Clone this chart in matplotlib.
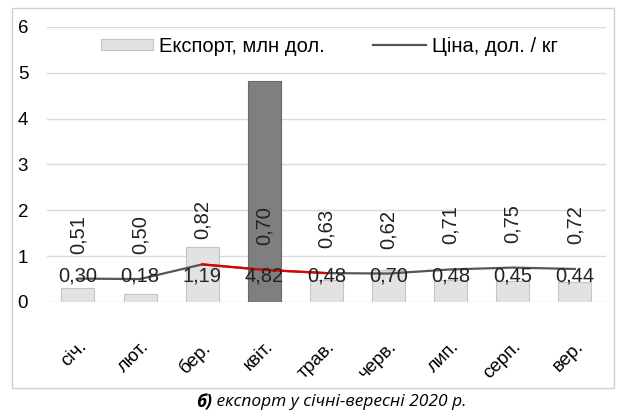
import numpy as np
import matplotlib
matplotlib.use("Agg")
import matplotlib.pyplot as plt
from matplotlib.patches import Rectangle

months = ["січ.", "лют.", "бер.", "квіт.", "трав.", "черв.", "лип.", "серп.", "вер."]
export = [0.30, 0.18, 1.19, 4.82, 0.48, 0.70, 0.48, 0.45, 0.44]
price = [0.51, 0.50, 0.82, 0.70, 0.63, 0.62, 0.71, 0.75, 0.72]
highlight = 3          # квіт. – dark bar
red_part = slice(2, 5)  # бер. .. трав.
export_name = "Експорт, млн дол."
price_name = "Ціна, дол. / кг"
caption_head = "б)"
caption_tail = " експорт у січні-вересні 2020 р."

plt.rcParams["font.family"] = ["Liberation Sans", "DejaVu Sans"]

fig = plt.figure(figsize=(6.17, 4.20), dpi=100)
ax = fig.add_axes([0.076, 0.281, 0.906, 0.655])

x = np.arange(len(months))
colors = ["#e2e2e2"] * len(months)
colors[highlight] = "#7f7f7f"
edges = ["#c4c4c4"] * len(months)
edges[highlight] = "#6a6a6a"
bars = ax.bar(x, export, width=0.53, color=colors, edgecolor=edges, linewidth=0.8,
              zorder=2, label=export_name)

line, = ax.plot(x, price, color="#555555", lw=1.6, zorder=3, label=price_name)
ax.plot(x[red_part], price[red_part], color="#e00000", lw=1.6, zorder=4)

for xi, v in zip(x, export):
    ax.text(xi, 0.57, f"{v:.2f}".replace(".", ","), ha="center", va="center",
            fontsize=14.5, color="#222222", zorder=5)
for xi, v in zip(x, price):
    ax.annotate(f"{v:.2f}".replace(".", ","), (xi, v), xytext=(0, 18),
                textcoords="offset points", rotation=90, ha="center", va="bottom",
                fontsize=14.5, color="#222222", zorder=5)

ax.set_xlim(-0.5, len(months) - 0.5)
ax.set_ylim(0, 6)
ax.set_yticks(range(0, 7))
ax.yaxis.grid(True, color="#d9d9d9", lw=1)
ax.set_axisbelow(True)
for s in ax.spines.values():
    s.set_visible(False)
ax.tick_params(axis="y", length=0, pad=21, labelsize=13.5)
ax.tick_params(axis="x", length=0, pad=26, labelsize=13.5)
for lab in ax.get_yticklabels():
    lab.set_horizontalalignment("left")
ax.set_xticks(x)
ax.set_xticklabels(months, rotation=45, ha="right", rotation_mode="anchor")

ax.legend([bars[0], line], [export_name, price_name], loc="center",
          bbox_to_anchor=(0.505, 0.93), ncol=2, frameon=False,
          fontsize=14.5, handlelength=2.6, handleheight=0.45, columnspacing=2.4,
          handletextpad=0.3)

fig.patches.append(Rectangle((12 / 617, 1 - 388 / 420), 602 / 617, 380 / 420,
                             transform=fig.transFigure, fill=False,
                             edgecolor="#d0d0d0", lw=1))

# caption: bold italic head + italic tail, centred as a whole
head = fig.text(0.3, 1 - 402 / 420, caption_head, family="Open Sans", style="italic",
                weight="bold", fontsize=12.5, va="center", ha="left")
tail = fig.text(0.3, 1 - 402 / 420, caption_tail, family="Open Sans", style="italic",
                fontsize=12.5, va="center", ha="left")
fig.canvas.draw()
r = fig.canvas.get_renderer()
wh = head.get_window_extent(r).width
wt = tail.get_window_extent(r).width
left = (331 - (wh + wt) / 2) / 617
head.set_x(left)
tail.set_x(left + wh / 617)

fig.savefig("out.png", dpi=100)
